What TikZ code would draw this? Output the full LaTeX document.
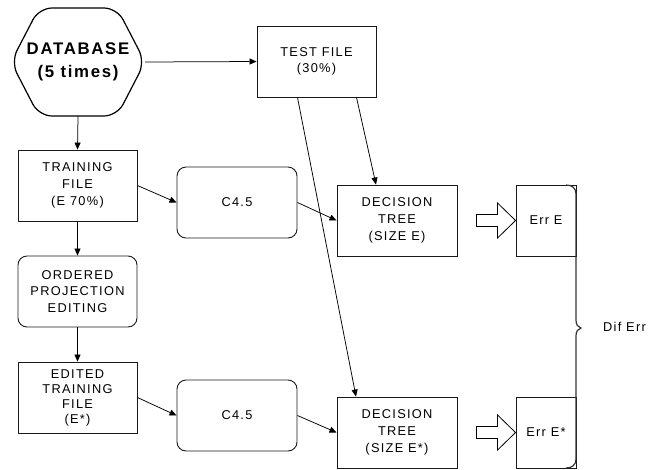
\documentclass[tikz,border=0pt]{standalone}
\usepackage{fontspec}
\setmainfont{Liberation Sans}[LetterSpace=10]
\usetikzlibrary{arrows.meta,calc}
\begin{document}
\begin{tikzpicture}[x=1pt,y=-1pt,
  txt/.style={font=\fontsize{12.8}{16.7}\selectfont, align=center, inner sep=0pt},
  box/.style={txt, draw=black!90, line width=0.9pt, minimum width=119pt, minimum height=71pt},
  rbox/.style={box, rounded corners=9pt},
  ebox/.style={box, minimum width=60pt},
  conn/.style={line width=0.75pt, -{Triangle[length=7pt,width=6pt]}},
]
\useasboundingbox (0,0) rectangle (659,469);
% database hexagon
\node[inner sep=0pt, minimum width=134pt, minimum height=108pt, align=center,
      font=\fontsize{16.8}{23.3}\bfseries\selectfont] (db) at (78,62) {DATABASE\\(5 times)};
\draw[line width=1.2pt, rounded corners=13pt]
  (11,62) -- (39,8) -- (117,8) -- (145,62) -- (117,116) -- (39,116) -- cycle;
\node[box] (test) at (316.5,61.5) {TEST FILE\\(30\%)};
\node[box] (train) at (77.5,185.5) {TRAINING\\FILE\\(E 70\%)};
\node[rbox, minimum width=120pt] (c1) at (237,202.5) {C4.5};
\node[box, minimum width=120pt] (dt1) at (397,220.5) {DECISION\\TREE\\(SIZE E)};
\node[ebox] (e1) at (546,220.5) {Err E};
\node[rbox] (ope) at (77.5,291.5) {ORDERED\\PROJECTION\\EDITING};
\node[box, font=\fontsize{12.8}{15}\selectfont] (edit) at (77.5,397.5) {EDITED\\TRAINING\\FILE\\(E*)};
\node[rbox, minimum width=120pt] (c2) at (237,415.5) {C4.5};
\node[box, minimum width=120pt] (dt2) at (397,432.5) {DECISION\\TREE\\(SIZE E*)};
\node[ebox] (e2) at (546,432.5) {Err E*};
\node[txt, anchor=west] (dif) at (603,327) {Dif Err};
% connectors
\draw[conn] (db.east) -- (test.west);
\draw[conn] (db.south) -- (train.north);
\draw[conn] (train.south) -- (ope.north);
\draw[conn] (ope.south) -- (edit.north);
\draw[conn] (train.east) -- (c1.west);
\draw[conn] (c1.east) -- (dt1.west);
\draw[conn] (edit.east) -- (c2.west);
\draw[conn] (c2.east) -- (dt2.west);
\draw[conn] ([xshift=40pt]test.south) -- ([xshift=-21pt]dt1.north);
\draw[conn] ([xshift=-19pt]test.south) -- ([xshift=-41pt]dt2.north);
% block arrows
\foreach \e in {e1,e2}{
  \draw[line width=0.8pt, fill=white]
    (\e.west) -- ++(-18,-17.5) -- ++(0,11.5) -- ++(-21,0) -- ++(0,12) -- ++(21,0) -- ++(0,11.5) -- cycle;
}
% brace
\coordinate (bt) at (566,185);
\coordinate (bb) at (566,468);
\draw[line width=1.2pt, black!80]
  (bt) .. controls (572,185) and (576,188) .. (576,194) -- (576,320)
  .. controls (576,325) and (578,327) .. (581,328)
  .. controls (578,329) and (576,331) .. (576,336) -- (576,459)
  .. controls (576,465) and (572,468) .. (bb);
\end{tikzpicture}
\end{document}
